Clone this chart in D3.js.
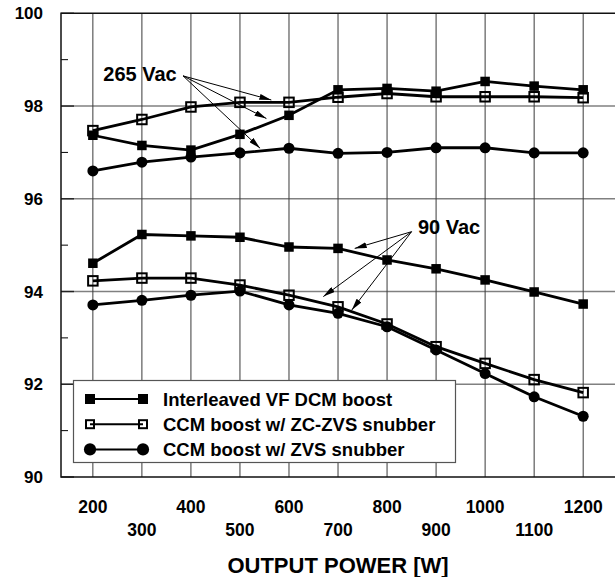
<!DOCTYPE html>
<html>
<head>
<meta charset="utf-8">
<script src="https://cdn.jsdelivr.net/npm/d3@7"></script>
<style>
  body { margin: 0; background: #fff; }
  svg { display: block; font-family: 'Liberation Sans', Arial, sans-serif; font-weight: bold; }
  .grid-x { stroke: #3a3a3a; stroke-width: 1; }
  .grid-y { stroke: #808080; stroke-width: 1.4; }
  .series { fill: none; stroke: #000; stroke-width: 2.8; }
  .arrow { stroke: #000; stroke-width: 1; }
</style>
</head>
<body>
<svg width="615" height="577"></svg>
<script>
const powers = [200, 300, 400, 500, 600, 700, 800, 900, 1000, 1100, 1200];

// 265 Vac
const dcm265 = [97.37, 97.15, 97.05, 97.39, 97.8, 98.35, 98.38, 98.32, 98.53, 98.43, 98.35];
const zczvs265 = [97.47, 97.71, 97.98, 98.08, 98.08, 98.19, 98.27, 98.2, 98.2, 98.2, 98.18];
const zvs265 = [96.6, 96.79, 96.9, 96.99, 97.09, 96.98, 97.0, 97.1, 97.1, 96.99, 96.99];

// 90 Vac
const dcm90 = [94.61, 95.23, 95.2, 95.17, 94.96, 94.93, 94.68, 94.49, 94.25, 93.99, 93.73];
const zczvs90 = [94.23, 94.29, 94.29, 94.14, 93.92, 93.67, 93.3, 92.81, 92.45, 92.1, 91.82];
const zvs90 = [93.71, 93.81, 93.92, 94.01, 93.71, 93.53, 93.24, 92.74, 92.23, 91.73, 91.31];

const xTicksUpper = [200, 400, 600, 800, 1000, 1200];
const xTicksLower = [300, 500, 700, 900, 1100];
const yMajor = [90, 92, 94, 96, 98, 100];
const yMinor = [91, 93, 95, 97, 99];

const legendNames = ['Interleaved VF DCM boost', 'CCM boost w/ ZC-ZVS snubber', 'CCM boost w/ ZVS snubber'];
const legendMarkers = ['filled', 'open', 'circle'];

// annotation text and arrow tips, in data units
const notes = [
  { text: '265 Vac', at: [371, 98.54], from: [384, 98.65], tips: [[564, 98.13], [554, 97.73], [541, 97.09]], anchor: 'end' },
  { text: '90 Vac', at: [863, 95.25], from: [850, 95.29], tips: [[734, 94.93], [670, 93.89], [728, 93.6]], anchor: 'start' }
];

const svg = d3.select('svg');

const x = d3.scaleLinear().domain([135, 1270]).range([61, 617.5]);
const y = d3.scaleLinear().domain([90, 100]).range([477, 13.3]);

const defs = svg.append('defs');
defs.append('marker')
  .attr('id', 'head')
  .attr('viewBox', '0 0 12 6')
  .attr('refX', 12)
  .attr('refY', 3)
  .attr('markerWidth', 12)
  .attr('markerHeight', 6)
  .attr('markerUnits', 'userSpaceOnUse')
  .attr('orient', 'auto')
  .append('path')
  .attr('d', 'M0,0 L12,3 L0,6 Z')
  .attr('fill', '#000');

const plot = svg.append('g');

// grid
plot.selectAll('.grid-y')
  .data(yMajor.filter(v => v > 90 && v < 100))
  .enter()
  .append('line')
  .attr('class', 'grid-y')
  .attr('x1', x(135)).attr('x2', 615)
  .attr('y1', d => y(d)).attr('y2', d => y(d));

plot.selectAll('.grid-x')
  .data(powers)
  .enter()
  .append('line')
  .attr('class', 'grid-x')
  .attr('x1', d => x(d)).attr('x2', d => x(d))
  .attr('y1', y(100)).attr('y2', y(90));

// ticks on left edge
plot.selectAll('.minor')
  .data(yMinor)
  .enter()
  .append('line')
  .attr('stroke', '#000')
  .attr('stroke-width', 1)
  .attr('x1', x(135)).attr('x2', x(135) + 7)
  .attr('y1', d => y(d)).attr('y2', d => y(d));

plot.selectAll('.major')
  .data(yMajor)
  .enter()
  .append('line')
  .attr('stroke', '#222')
  .attr('stroke-width', 1.4)
  .attr('x1', x(135)).attr('x2', x(135) + 13)
  .attr('y1', d => y(d)).attr('y2', d => y(d));

// frame
plot.append('path')
  .attr('d', `M615,${y(100)} H${x(135)} V${y(90)} H615`)
  .attr('fill', 'none')
  .attr('stroke', '#111')
  .attr('stroke-width', 1.5);

// series
const line = d3.line()
  .x((d, i) => x(powers[i]))
  .y(d => y(d));

const series = [
  { values: dcm265, marker: 'filled' },
  { values: zczvs265, marker: 'open' },
  { values: zvs265, marker: 'circle' },
  { values: dcm90, marker: 'filled' },
  { values: zczvs90, marker: 'open' },
  { values: zvs90, marker: 'circle' }
];

const drawMarker = (g, type, cx, cy, size) => {
  if (type === 'filled') {
    g.append('rect')
      .attr('x', cx - size / 2).attr('y', cy - size / 2)
      .attr('width', size).attr('height', size)
      .attr('fill', '#000');
  } else if (type === 'open') {
    g.append('rect')
      .attr('x', cx - size / 2).attr('y', cy - size / 2)
      .attr('width', size).attr('height', size)
      .attr('fill', 'none')
      .attr('stroke', '#000')
      .attr('stroke-width', 2);
  } else {
    g.append('circle')
      .attr('cx', cx).attr('cy', cy)
      .attr('r', size * 0.58)
      .attr('fill', '#000');
  }
};

series.forEach(s => {
  plot.append('path')
    .datum(s.values)
    .attr('class', 'series')
    .attr('d', line);
  const g = plot.append('g');
  s.values.forEach((v, i) => drawMarker(g, s.marker, x(powers[i]), y(v), s.marker === 'open' ? 9.5 : 9.5));
});

// annotations
notes.forEach(n => {
  n.tips.forEach(t => {
    plot.append('line')
      .attr('class', 'arrow')
      .attr('x1', x(n.from[0])).attr('y1', y(n.from[1]))
      .attr('x2', x(t[0])).attr('y2', y(t[1]))
      .attr('marker-end', 'url(#head)');
  });
  plot.append('text')
    .attr('x', x(n.at[0]))
    .attr('y', y(n.at[1]))
    .attr('text-anchor', n.anchor)
    .style('font-size', '20px')
    .text(n.text);
});

// legend
const legend = svg.append('g');
legend.append('rect')
  .attr('x', 73.5).attr('y', 380.5)
  .attr('width', 382).attr('height', 82)
  .attr('fill', '#fff')
  .attr('stroke', '#555')
  .attr('stroke-width', 1.2);

legendNames.forEach((name, i) => {
  const ly = 399 + i * 25.2;
  legend.append('line')
    .attr('x1', 90).attr('x2', 143)
    .attr('y1', ly).attr('y2', ly)
    .attr('stroke', '#000')
    .attr('stroke-width', 2);
  const type = legendMarkers[i];
  const size = type === 'circle' ? 10.5 : (type === 'open' ? 8 : 10);
  drawMarker(legend, type, 90, ly, size);
  drawMarker(legend, type, 143, ly, size);
  legend.append('text')
    .attr('x', 163)
    .attr('y', ly + 6.5)
    .style('font-size', '18.5px')
    .text(name);
});

// axis labels
svg.selectAll('.ylab')
  .data(yMajor)
  .enter()
  .append('text')
  .attr('x', 43)
  .attr('y', d => y(d) + 6)
  .attr('text-anchor', 'end')
  .style('font-size', '17px')
  .text(d => d);

svg.selectAll('.xlab-up')
  .data(xTicksUpper)
  .enter()
  .append('text')
  .attr('x', d => x(d))
  .attr('y', 513)
  .attr('text-anchor', 'middle')
  .style('font-size', '17.5px')
  .text(d => d);

svg.selectAll('.xlab-low')
  .data(xTicksLower)
  .enter()
  .append('text')
  .attr('x', d => x(d))
  .attr('y', 535.5)
  .attr('text-anchor', 'middle')
  .style('font-size', '17.5px')
  .text(d => d);

svg.append('text')
  .attr('x', x(700))
  .attr('y', 573)
  .attr('text-anchor', 'middle')
  .style('font-size', '22px')
  .text('OUTPUT POWER [W]');
</script>
</body>
</html>
